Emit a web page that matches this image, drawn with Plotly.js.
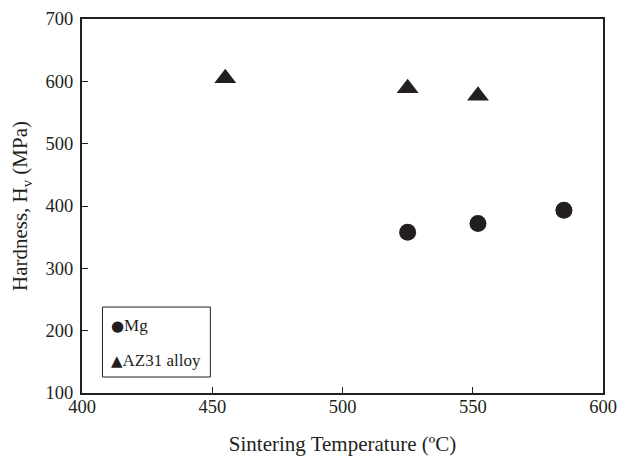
<!DOCTYPE html>
<html>
<head>
<meta charset="utf-8">
<script src="https://cdn.plot.ly/plotly-3.0.1.min.js"></script>
<style>html,body{margin:0;padding:0;background:#fff;}#chart{width:619px;height:456px;}</style>
</head>
<body>
<div id="chart"></div>
<script>
// Data
const mgTemp = [525, 552, 585];
const mgHardness = [358, 372, 393];
const az31Temp = [455, 525, 552];
const az31Hardness = [605, 589, 577];
const xTicks = [400, 450, 500, 550, 600];
const yTicks = [100, 200, 300, 400, 500, 600, 700];
const seriesNames = ['Mg', 'AZ31 alloy'];
const legendGlyphs = ['●', '▲'];

const ink = '#231f20';
const fontFam = '"Liberation Serif", "Times New Roman", serif';

const traces = [
  {
    x: mgTemp, y: mgHardness, name: seriesNames[0], type: 'scatter', mode: 'markers',
    marker: {symbol: 'circle', size: 17, color: ink}
  },
  {
    x: az31Temp, y: az31Hardness, name: seriesNames[1], type: 'scatter', mode: 'markers',
    marker: {symbol: 'triangle-up', size: 19, color: ink}
  }
];

// legend drawn as a boxed text block, like the reference
const legendRowsY = [0.1817, 0.0882];
const legendAnn = seriesNames.map((n, i) => ({
  xref: 'paper', yref: 'paper', x: 0.052, y: legendRowsY[i],
  xanchor: 'left', yanchor: 'middle', showarrow: false,
  text: '<span style="font-family:DejaVu Sans;font-size:15px">' + legendGlyphs[i] + '</span>' + n,
  font: {family: fontFam, size: 17, color: ink}
}));

const layout = {
  width: 619, height: 456,
  margin: {l: 81.5, r: 16, t: 18.7, b: 63},
  paper_bgcolor: '#fff', plot_bgcolor: '#fff',
  font: {family: fontFam, size: 18.5, color: ink},
  showlegend: false,
  annotations: legendAnn,
  shapes: [{
    type: 'rect', xref: 'paper', yref: 'paper',
    x0: 0.0393, x1: 0.2464, y0: 0.0427, y1: 0.2298,
    line: {color: ink, width: 1}, fillcolor: 'rgba(0,0,0,0)'
  }],
  xaxis: {
    range: [400, 600], tickvals: xTicks, ticktext: xTicks.map(String),
    ticks: 'inside', ticklen: 6, tickwidth: 1, tickcolor: ink,
    showline: true, linewidth: 2, linecolor: ink, mirror: true,
    showgrid: false, zeroline: false, ticklabelstandoff: -4,
    tickfont: {family: fontFam, size: 18.5, color: ink},
    title: {text: 'Sintering Temperature (ºC)', font: {family: fontFam, size: 21, color: ink}, standoff: 24}
  },
  yaxis: {
    range: [100, 700], tickvals: yTicks, ticktext: yTicks.map(String),
    ticks: 'inside', ticklen: 6, tickwidth: 1, tickcolor: ink,
    showline: true, linewidth: 2, linecolor: ink, mirror: true,
    showgrid: false, zeroline: false, ticklabelstandoff: 3,
    tickfont: {family: fontFam, size: 18.5, color: ink},
    title: {text: 'Hardness, H<sub>v</sub> (MPa)', font: {family: fontFam, size: 21, color: ink}, standoff: 12}
  }
};

Plotly.newPlot('chart', traces, layout, {displayModeBar: false, staticPlot: true});
</script>
</body>
</html>
